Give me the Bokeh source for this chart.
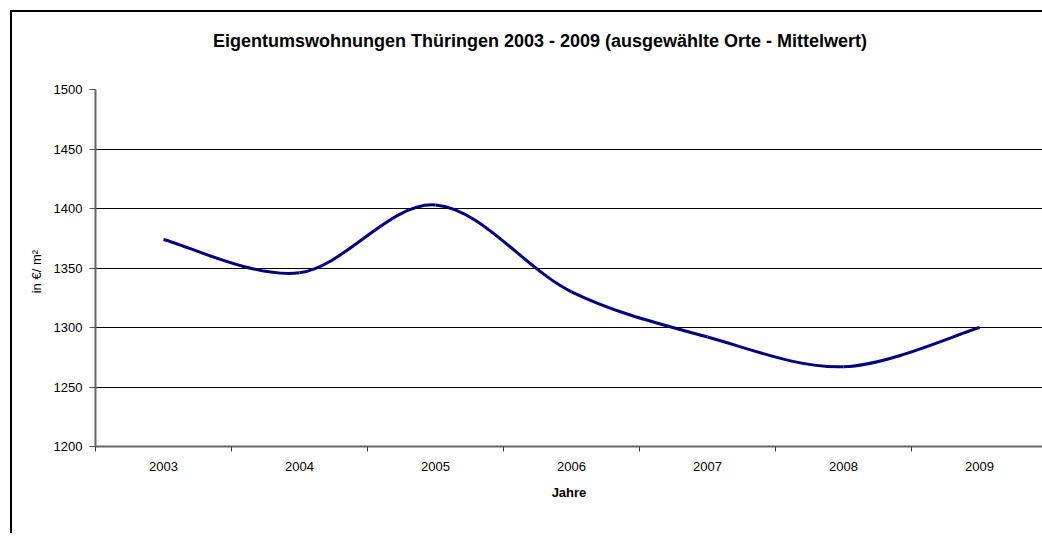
from bokeh.plotting import figure
from bokeh.models import FixedTicker, Range1d, ColumnDataSource, Div
from bokeh.layouts import column
from bokeh.embed import file_html
from bokeh.resources import INLINE

# ---- data ----
years = ["2003", "2004", "2005", "2006", "2007", "2008", "2009"]
values = [1374, 1346, 1403, 1330, 1292, 1267, 1300]
y_ticks = [1200, 1250, 1300, 1350, 1400, 1450, 1500]
title = "Eigentumswohnungen Thüringen 2003 - 2009 (ausgewählte Orte - Mittelwert)"

FONT = "Liberation Sans"
xs = list(range(len(years)))

title_div = Div(
    text=('<div style="font-family:\'Liberation Sans\';font-size:18px;font-weight:bold;'
          'color:#000;padding-left:201px;padding-top:20px;line-height:18px;'
          'white-space:nowrap;">' + title + '</div>'),
    width=1030, height=45, margin=0)

p = figure(width=1030, height=476, output_backend="svg", toolbar_location=None,
           x_range=Range1d(-0.5, 6.463), y_range=Range1d(1200, 1500),
           min_border_left=83, min_border_top=32, min_border_right=0,
           min_border_bottom=87, margin=0)
p.outline_line_color = None
p.background_fill_color = "white"
p.border_fill_color = "white"

# smoothed line via cubic Bezier segments (Catmull-Rom control points)
n = len(values)
def P(i):
    i = max(0, min(n - 1, i))
    return xs[i], values[i]
x0, y0, x1, y1, cx0, cy0, cx1, cy1 = [], [], [], [], [], [], [], []
for i in range(n - 1):
    a, b = P(i), P(i + 1)
    pm, pn = P(i - 1), P(i + 2)
    x0.append(a[0]); y0.append(a[1]); x1.append(b[0]); y1.append(b[1])
    cx0.append(a[0] + (b[0] - pm[0]) / 6); cy0.append(a[1] + (b[1] - pm[1]) / 6)
    cx1.append(b[0] - (pn[0] - a[0]) / 6); cy1.append(b[1] - (pn[1] - a[1]) / 6)
src = ColumnDataSource(dict(x0=x0, y0=y0, x1=x1, y1=y1, cx0=cx0, cy0=cy0, cx1=cx1, cy1=cy1))
p.bezier(x0="x0", y0="y0", x1="x1", y1="y1", cx0="cx0", cy0="cy0", cx1="cx1", cy1="cy1",
         source=src, line_color="#000080", line_width=3)

# x axis: labels at category centres, ticks between categories
p.xaxis.ticker = FixedTicker(ticks=xs, minor_ticks=[i - 0.5 for i in range(len(years) + 1)])
p.xaxis.major_label_overrides = {i: y for i, y in enumerate(years)}
p.xaxis.major_tick_in = 0
p.xaxis.major_tick_out = 0
p.xaxis.minor_tick_in = 0
p.xaxis.minor_tick_out = 5
p.xaxis.minor_tick_line_color = "#333333"
p.xaxis.axis_line_color = "#666666"
p.xaxis.axis_line_width = 2
p.xaxis.major_label_text_font = FONT
p.xaxis.major_label_text_font_size = "13px"
p.xaxis.major_label_text_color = "black"
p.xaxis.major_label_standoff = 10
p.xaxis.axis_label = "Jahre"
p.xaxis.axis_label_text_font = FONT
p.xaxis.axis_label_text_font_size = "13px"
p.xaxis.axis_label_text_font_style = "bold"
p.xaxis.axis_label_text_color = "black"
p.xaxis.axis_label_standoff = 11
p.xgrid.grid_line_color = None

# y axis
p.yaxis.ticker = FixedTicker(ticks=y_ticks)
p.yaxis.major_tick_in = 0
p.yaxis.major_tick_out = 6
p.yaxis.major_tick_line_color = "#555555"
p.yaxis.minor_tick_line_color = None
p.yaxis.axis_line_color = "#666666"
p.yaxis.axis_line_width = 2
p.yaxis.major_label_text_font = FONT
p.yaxis.major_label_text_font_size = "13px"
p.yaxis.major_label_text_color = "black"
p.yaxis.major_label_standoff = 7
p.yaxis.axis_label = "in   €/ m²"
p.yaxis.axis_label_text_font = FONT
p.yaxis.axis_label_text_font_size = "13px"
p.yaxis.axis_label_text_font_style = "normal"
p.yaxis.axis_label_text_color = "black"
p.yaxis.axis_label_standoff = 7
p.ygrid.grid_line_color = "black"
p.ygrid.grid_line_width = 1

layout = column(title_div, p, spacing=0, margin=(10, 0, 0, 10),
                styles={"border-top": "2px solid #000000", "border-left": "2px solid #000000",
                        "border-right": "0px none", "border-bottom": "0px none",
                        "outline": "none", "box-shadow": "none"})

open("out.html", "w").write(file_html(layout, INLINE))
